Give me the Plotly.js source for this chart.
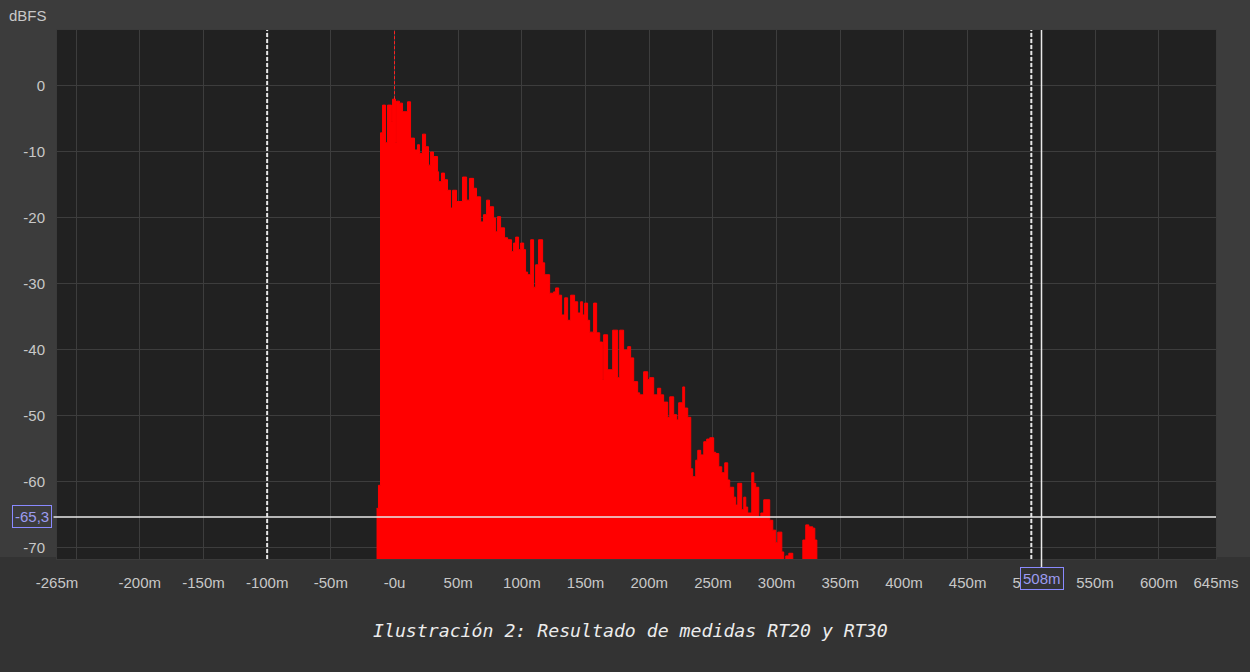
<!DOCTYPE html>
<html>
<head>
<meta charset="utf-8">
<script src="https://cdn.plot.ly/plotly-3.0.1.min.js"></script>
<style>
html,body{margin:0;padding:0;background:#333333;}
#chart{width:1250px;height:672px;}
</style>
</head>
<body>
<div id="chart"></div>
<script>
// Energy-time curve (step start time in ms, level in dBFS)
const timesMs = [-14.1,-12.6,-11.0,-9.4,-7.1,-5.5,-2.4,-1.6,0.8,1.6,3.9,6.3,10.2,12.6,15.7,18.1,19.6,22.0,24.4,26.7,28.3,30.6,33.8,34.6,36.9,39.3,41.6,44.0,45.6,48.7,53.4,56.6,58.9,62.1,64.4,67.6,69.9,72.3,74.6,77.8,79.4,80.9,83.3,86.4,88.8,91.9,93.5,95.1,97.4,99.0,101.4,102.9,104.5,106.9,109.2,110.8,113.1,116.3,117.9,121.8,124.9,126.5,128.9,131.2,133.6,135.9,138.3,141.4,143.8,146.1,147.7,149.3,151.6,153.2,156.3,158.7,161.1,163.4,164.2,167.3,171.3,175.2,176.8,179.9,183.1,185.4,187.8,190.9,192.5,195.6,198.8,200.3,203.5,206.6,209.0,211.3,214.5,216.1,219.2,221.6,223.1,226.3,227.8,230.2,232.6,234.1,236.5,238.1,240.4,242.8,245.1,247.5,250.6,252.2,254.6,256.9,259.3,261.6,263.2,266.3,267.9,269.5,272.6,274.2,275.8,277.3,280.5,282.1,283.6,286.0,287.6,289.9,294.6,297.0,299.3,300.9,304.1,305.6,307.2,309.6,312.7,320.6,322.9,325.3,328.4,330.0,331.6];
const levelsDb = [-64,-60.5,-7.1,-2.9,-8.6,-2.9,-5.4,-2.0,-8.6,-2.3,-2.6,-3.9,-2.4,-7.9,-9.7,-8.9,-10.2,-7.3,-9.2,-12.0,-10.0,-10.7,-13.0,-14.5,-13.2,-14.2,-15.8,-18.5,-15.8,-17.5,-13.8,-17.3,-14.0,-15.5,-16.8,-20.6,-19.5,-17.3,-18.3,-20.0,-22.1,-19.8,-21.5,-23.0,-23.3,-25.1,-23.8,-22.9,-24.8,-23.8,-24.8,-28.2,-28.6,-23.3,-30.5,-27.1,-23.3,-26.8,-28.6,-31.4,-31.2,-30.6,-31.7,-34.7,-32.1,-35.5,-31.7,-32.7,-34.4,-32.7,-34.7,-32.9,-35.5,-37.3,-32.9,-37.4,-38.8,-44.5,-37.7,-43.0,-37.0,-44.2,-37.0,-40.0,-39.5,-41.2,-44.8,-46.5,-46.8,-43.3,-44.5,-44.2,-46.8,-45.8,-46.8,-47.9,-50.2,-47.1,-49.8,-50.6,-48.0,-45.6,-48.8,-50.2,-58.0,-59.2,-56.7,-55.2,-55.9,-53.9,-53.5,-53.3,-55.5,-55.7,-57.7,-58.6,-57.1,-59.7,-60.8,-62.3,-63.5,-60.2,-64.2,-62.3,-63.8,-64.7,-58.6,-60.2,-60.8,-65.3,-64.7,-62.7,-65.8,-67.3,-69.2,-67.6,-70.6,-80,-71.2,-70.8,-80,-68.8,-66.5,-66.8,-67.0,-68.8,-80];

const floorDb = -80;

const xTickVals = [-265,-250,-200,-150,-100,-50,0,50,100,150,200,250,300,350,400,450,500,550,600,645];
const xTickText = ['-265m','','-200m','-150m','-100m','-50m','-0u','50m','100m','150m','200m','250m','300m','350m','400m','450m','500m','550m','600m','645ms'];
const yTickVals = [0,-10,-20,-30,-40,-50,-60,-70];
const yTickText = ['0','-10','-20','-30','-40','-50','-60','-70'];

const markerLinesMs = [-100, 500];   // dashed white markers
const cursorTimeMs = 508;
const cursorLevelDb = -65.3;
const cursorTimeLabel = '508m';
const cursorLevelLabel = '-65,3';
const peakTimeMs = 0;
const peakLevelDb = -2.0;

const xRange = [-265, 645];
const yRange = [-71.67, 8.48];

const traces = [
  {x:[timesMs[0], timesMs[timesMs.length-1]], y:[floorDb, floorDb], mode:'lines',
   line:{width:0,color:'rgba(0,0,0,0)'}, hoverinfo:'skip', showlegend:false},
  {x:timesMs, y:levelsDb, mode:'lines', line:{shape:'hv', color:'#ff0000', width:1},
   fill:'tonexty', fillcolor:'#ff0000', showlegend:false, hoverinfo:'skip'}
];

const shapes = [
  {type:'rect', xref:'paper', yref:'paper', x0:-0.06, x1:1.04, y0:1, y1:1.07, fillcolor:'#3c3c3c', line:{width:0}, layer:'below'},
  {type:'rect', xref:'paper', yref:'paper', x0:-0.06, x1:0, y0:0.004, y1:1, fillcolor:'#3c3c3c', line:{width:0}, layer:'below'},
  {type:'rect', xref:'paper', yref:'paper', x0:1, x1:1.04, y0:0.004, y1:1, fillcolor:'#3c3c3c', line:{width:0}, layer:'below'}
];
markerLinesMs.forEach(t => shapes.push({type:'line', xref:'x', yref:'paper', x0:t, x1:t, y0:0, y1:1,
  line:{color:'#e6e6e6', width:2, dash:'4px,2px'}}));
shapes.push({type:'line', xref:'x', yref:'y', x0:peakTimeMs, x1:peakTimeMs, y0:peakLevelDb, y1:yRange[1],
  line:{color:'#ff2020', width:1, dash:'3px,2px'}});
shapes.push({type:'line', xref:'x', yref:'paper', x0:cursorTimeMs, x1:cursorTimeMs, y0:-0.017, y1:1,
  line:{color:'#e8e8e8', width:1.5}});
shapes.push({type:'line', xref:'paper', yref:'y', x0:-0.003, x1:1, y0:cursorLevelDb, y1:cursorLevelDb,
  line:{color:'#e8e8e8', width:1.5}});

const tickFont = {family:'"Liberation Sans", Arial, sans-serif', size:15, color:'#c8c8c8'};

const layout = {
  width:1250, height:672,
  margin:{l:57, r:34, t:30, b:113, pad:0},
  paper_bgcolor:'#333333', plot_bgcolor:'#212121',
  showlegend:false,
  xaxis:{range:xRange, tickmode:'array', tickvals:xTickVals, ticktext:xTickText,
    showgrid:true, gridcolor:'#3d3d3d', gridwidth:1, zeroline:false,
    ticks:'outside', ticklen:10, tickcolor:'rgba(0,0,0,0)', tickfont:tickFont,
    showline:true, mirror:true, linecolor:'#3a3a3a', linewidth:1, fixedrange:true},
  yaxis:{range:yRange, tickmode:'array', tickvals:yTickVals, ticktext:yTickText,
    showgrid:true, gridcolor:'#3d3d3d', gridwidth:1, zeroline:false,
    ticks:'outside', ticklen:8, tickcolor:'rgba(0,0,0,0)', tickfont:tickFont,
    showline:true, mirror:true, linecolor:'#3a3a3a', linewidth:1, fixedrange:true},
  shapes:shapes,
  annotations:[
    {text:'dBFS', xref:'paper', yref:'paper', x:-0.025, y:1.028, xanchor:'center', yanchor:'middle',
     showarrow:false, font:tickFont},
    {text:cursorLevelLabel, xref:'paper', yref:'y', x:-0.0216, y:cursorLevelDb, xanchor:'center', yanchor:'middle',
     showarrow:false, font:{family:tickFont.family, size:15, color:'#9c9cf0'},
     bordercolor:'#8a8aff', borderwidth:1, borderpad:2, bgcolor:'#3c3c3c'},
    {text:cursorTimeLabel, xref:'x', yref:'paper', x:cursorTimeMs, y:-0.036, xanchor:'center', yanchor:'middle',
     showarrow:false, font:{family:tickFont.family, size:15, color:'#9c9cf0'},
     bordercolor:'#8a8aff', borderwidth:1, borderpad:2, bgcolor:'#333333'},
    {text:'<i>Ilustración 2: Resultado de medidas RT20 y RT30</i>', xref:'paper', yref:'paper',
     x:0.4945, y:-0.136, xanchor:'center', yanchor:'middle', showarrow:false,
     font:{family:'"DejaVu Sans Mono", "Liberation Mono", monospace', size:18.2, color:'#ececec'}}
  ]
};

Plotly.newPlot('chart', traces, layout, {staticPlot:true, displayModeBar:false});
</script>
</body>
</html>
